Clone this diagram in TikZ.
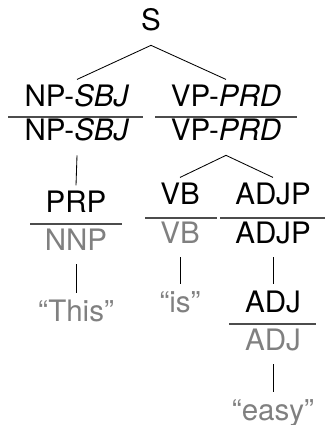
\documentclass[tikz,border=0pt]{standalone}
\usepackage{fontspec}
\setmainfont{TeX Gyre Heros}

\tikzset{
  lab/.style={font=\fontsize{21}{25}\selectfont, inner sep=0pt,
              text height=19.4pt, text depth=10pt, anchor=base},
  gold/.style={lab, text=black},
  pred/.style={lab, text=black!50},
  bar/.style={black!70, line width=0.8pt},
  branch/.style={black, line width=0.6pt}
}

\begin{document}
\begin{tikzpicture}[x=0.025cm, y=-0.025cm]

\useasboundingbox (0,0) rectangle (325,425);

% Root
\node[gold] (s) at (151,31) {S};

% Subject and predicate
\node[gold] (npG) at (77,107) {NP-\textit{SBJ}};
\node[gold] (npP) at (77,141) {NP-\textit{SBJ}};
\node[gold] (vpG) at (226,107) {VP-\textit{PRD}};
\node[gold] (vpP) at (226,141) {VP-\textit{PRD}};

% Preterminals
\node[gold] (prpG) at (76,213) {PRP};
\node[pred] (prpP) at (76,250) {NNP};
\node[gold] (vbG) at (180,205) {VB};
\node[pred] (vbP) at (180,243) {VB};
\node[gold] (adjpG) at (273,205) {ADJP};
\node[gold] (adjpP) at (273,243) {ADJP};
\node[gold] (adjG) at (273,312) {ADJ};
\node[pred] (adjP) at (273,350) {ADJ};

% Words
\node[pred] (this) at (76,321) {“This”};
\node[pred] (is) at (180,312) {“is”};
\node[pred] (easy) at (273,420) {“easy”};

% Bars between gold and predicted labels
\foreach \xa/\xb/\yb in {8/143/117, 155/297/117, 30/122/224,
                         145/217/218, 220/325/218, 229/316/324} {
  \draw[bar] (\xa,\yb) -- (\xb,\yb);
}

% Branches
\draw[branch] (s.south) -- (npG.north);
\draw[branch] (s.south) -- (vpG.north);
\draw[branch] (npP.south) -- (prpG.north);
\draw[branch] (vpP.south) -- (vbG.north);
\draw[branch] (vpP.south) -- (adjpG.north);
\draw[branch] (prpP.south) -- (this.north);
\draw[branch] (vbP.south) -- (is.north);
\draw[branch] (adjpP.south) -- (adjG.north);
\draw[branch] (adjP.south) -- (easy.north);

\end{tikzpicture}
\end{document}
